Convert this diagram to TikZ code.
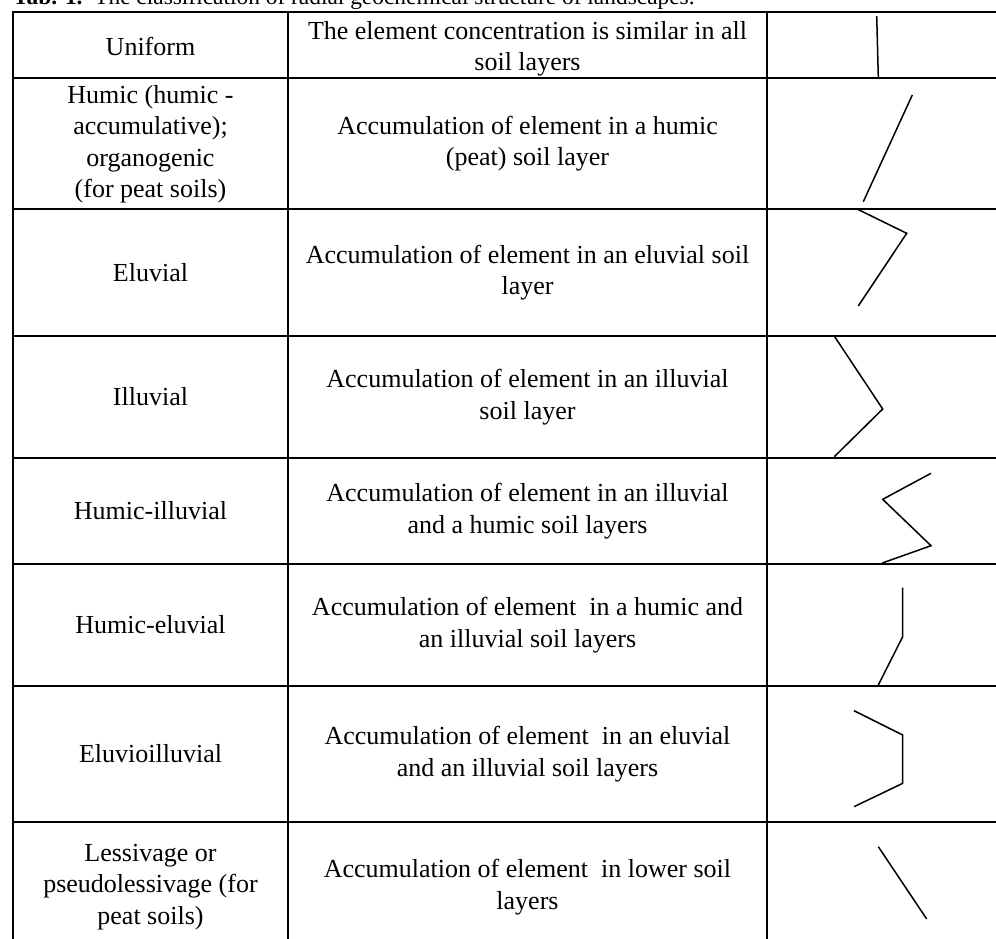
\documentclass[tikz,border=0pt]{standalone}
\usepackage{fontspec}
\setmainfont{Liberation Serif}
\begin{document}
\begin{tikzpicture}[x=1pt,y=-1pt,
  gridline/.style={line width=2pt},
  glyph/.style={line width=1.5pt, line join=miter},
  cell/.style={align=center, inner sep=0pt, font=\fontsize{26}{31.5}\selectfont},
  captext/.style={anchor=base west, inner sep=0pt, font=\fontsize{23.4}{25}\selectfont}]
\useasboundingbox (0,0) rectangle (996,938);
% caption
\node[captext] (cap) at (13,4.5) {\textbf{Tab. 1.}\ \ The classification of radial geochemical structure of landscapes.};
% grid
\foreach \yy in {12,78,209,336,458,564,686,822}
  \draw[gridline] (12,\yy) -- (1000,\yy);
\foreach \xx in {13,288,767}
  \draw[gridline] (\xx,11) -- (\xx,945);
% left column
\node[cell] (l1) at (150.5,46) {Uniform};
\node[cell] (l2) at (150.5,144) {Humic (humic -\\accumulative);\\organogenic\\(for peat soils)};
\node[cell] (l3) at (150.5,272.5) {Eluvial};
\node[cell] (l4) at (150.5,397) {Illuvial};
\node[cell] (l5) at (150.5,511) {Humic-illuvial};
\node[cell] (l6) at (150.5,625) {Humic-eluvial};
\node[cell] (l7) at (150.5,754) {Eluvioilluvial};
\node[cell] (l8) at (150.5,887) {Lessivage or\\pseudolessivage (for\\peat soils)};
% middle column
\node[cell] (m1) at (527.5,49) {The element concentration is similar in all\\soil layers};
\node[cell] (m2) at (527.5,143.5) {Accumulation of element in a humic\\(peat) soil layer};
\node[cell] (m3) at (527.5,272.5) {Accumulation of element in an eluvial soil\\layer};
\node[cell] (m4) at (527.5,397) {Accumulation of element in an illuvial\\soil layer};
\node[cell] (m5) at (527.5,511) {Accumulation of element in an illuvial\\and a humic soil layers};
\node[cell] (m6) at (527.5,625) {Accumulation of element \ in a humic and\\an illuvial soil layers};
\node[cell] (m7) at (527.5,754) {Accumulation of element \ in an eluvial\\and an illuvial soil layers};
\node[cell] (m8) at (527.5,887) {Accumulation of element \ in lower soil\\layers};
% profile glyphs
\draw[glyph] (876.7,16) -- (878.3,77);
\draw[glyph] (912.3,95) -- (863.3,201.7);
\draw[glyph] (857.7,209.3) -- (906.7,233.3) -- (858.3,306);
\draw[glyph] (834,335.7) -- (882.7,409) -- (834.3,456.7);
\draw[glyph] (931,473.3) -- (882.7,499.3) -- (931,545.7) -- (882.3,563);
\draw[glyph] (902.7,587.7) -- (902.7,636.7) -- (878.3,685);
\draw[glyph] (854,710.7) -- (902.7,735) -- (902.7,783.3) -- (854,806.7);
\draw[glyph] (878.3,846.7) -- (926.7,919);
\end{tikzpicture}
\end{document}
